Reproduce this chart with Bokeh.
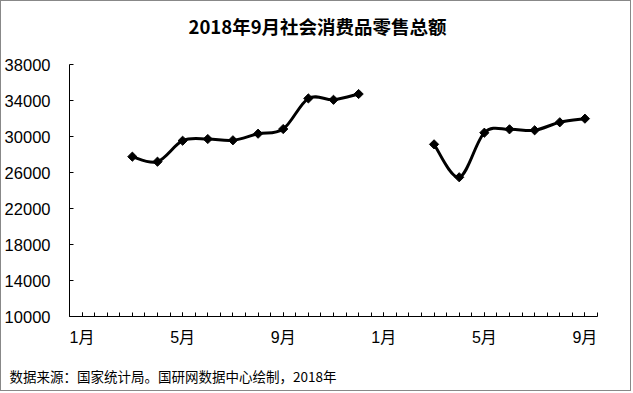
import math
import numpy as np
from bokeh.plotting import figure
from bokeh.models import Range1d, FixedTicker, Title
from bokeh.embed import file_html
from bokeh.resources import INLINE

# ---- data ----
months = ["1月", "2月", "3月", "4月", "5月", "6月", "7月", "8月", "9月", "10月", "11月", "12月",
          "1月", "2月", "3月", "4月", "5月", "6月", "7月", "8月", "9月"]
retail_sales = [None, None, 27760, 27200, 29530, 29720, 29580, 30310, 30830, 34230, 34080, 34720,
                None, None, 29130, 25470, 30420, 30800, 30690, 31580, 31980]
x_tick_positions = [0, 4, 8, 12, 16, 20]
x_tick_labels = ["1月", "5月", "9月", "1月", "5月", "9月"]
y_ticks = [10000, 14000, 18000, 22000, 26000, 30000, 34000, 38000]
title_text = "2018年9月社会消费品零售总额"
source_text = "数据来源：国家统计局。国研网数据中心绘制，2018年"

W, H = 631, 391
p = figure(width=W, height=H, output_backend="svg", toolbar_location=None,
           x_range=Range1d(-0.5, len(months) - 0.5), y_range=Range1d(10000, 38000),
           min_border_left=67, min_border_right=35, min_border_top=63, min_border_bottom=76)
p.title = None
p.styles = {"border": "1px solid #888888"}
p.outline_line_color = None
p.xgrid.visible = False
p.ygrid.visible = False
p.background_fill_color = "white"
p.border_fill_color = "white"

# y axis
p.yaxis.ticker = FixedTicker(ticks=y_ticks)
p.yaxis.major_tick_in = 4
p.yaxis.major_tick_out = 0
p.yaxis.minor_tick_line_color = None
p.yaxis.axis_line_color = "black"
p.yaxis.major_tick_line_color = "black"
p.yaxis.major_label_text_font = "Liberation Sans"
p.yaxis.major_label_text_font_size = "16.5px"
p.yaxis.major_label_text_color = "black"
p.yaxis.major_label_standoff = 19

# x axis
half_ticks = [i / 2 - 0.5 for i in range(2 * len(months) + 1)]
p.xaxis.ticker = FixedTicker(ticks=x_tick_positions, minor_ticks=half_ticks)
p.xaxis.major_label_overrides = {t: l for t, l in zip(x_tick_positions, x_tick_labels)}
p.xaxis.major_tick_in = 4
p.xaxis.major_tick_out = 0
p.xaxis.minor_tick_in = 4
p.xaxis.minor_tick_out = 0
p.xaxis.axis_line_color = "black"
p.xaxis.major_tick_line_color = "black"
p.xaxis.minor_tick_line_color = "black"
p.xaxis.major_label_text_font = "Liberation Sans, Noto Sans CJK SC"
p.xaxis.major_label_text_font_size = "16px"
p.xaxis.major_label_text_color = "black"
p.xaxis.major_label_standoff = 12

# title (spacer next to the frame, then the title itself)
p.add_layout(Title(text=" ", text_font_size="1px", standoff=23), "above")
p.add_layout(Title(text=title_text, align="left", offset=119, standoff=0,
                   text_font="Noto Sans CJK SC", text_font_style="bold",
                   text_font_size="18.5px", text_color="black"), "above")

# source note below the axis (spacer, then the note)
p.add_layout(Title(text=" ", text_font_size="1px", standoff=12), "below")
p.add_layout(Title(text=source_text, align="left", offset=-60, standoff=0,
                   text_font="Noto Sans CJK SC", text_font_style="normal",
                   text_font_size="13.5px", text_color="black"), "below")

# smoothed line segments (Catmull-Rom style Bezier through the data points)
xs = np.arange(len(months), dtype=float)
ys = np.array([np.nan if v is None else v for v in retail_sales], dtype=float)
runs, cur = [], []
for xi, yi in zip(xs, ys):
    if np.isnan(yi):
        if cur:
            runs.append(cur)
        cur = []
    else:
        cur.append((xi, yi))
if cur:
    runs.append(cur)

bx0, by0, bx1, by1, cx0, cy0, cx1, cy1 = ([] for _ in range(8))
for run in runs:
    n = len(run)
    for i in range(n - 1):
        pp = run[max(i - 1, 0)]
        p0 = run[i]
        p1 = run[i + 1]
        pn = run[min(i + 2, n - 1)]
        bx0.append(p0[0]); by0.append(p0[1])
        bx1.append(p1[0]); by1.append(p1[1])
        cx0.append(p0[0] + (p1[0] - pp[0]) / 6); cy0.append(p0[1] + (p1[1] - pp[1]) / 6)
        cx1.append(p1[0] - (pn[0] - p0[0]) / 6); cy1.append(p1[1] - (pn[1] - p0[1]) / 6)

p.bezier(x0=bx0, y0=by0, x1=bx1, y1=by1, cx0=cx0, cy0=cy0, cx1=cx1, cy1=cy1,
         line_color="black", line_width=3)
p.scatter(xs, ys, marker="square", angle=math.pi / 4, size=6.5,
          fill_color="black", line_color="black")

open("out.html", "w").write(file_html(p, INLINE))
